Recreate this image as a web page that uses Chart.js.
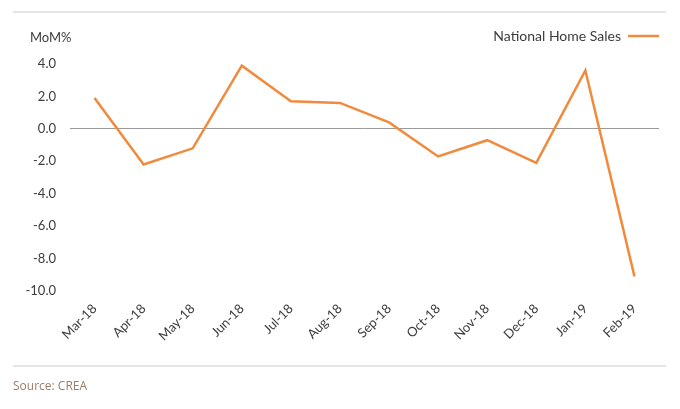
<!DOCTYPE html>
<html>
<head>
<meta charset="utf-8">
<script src="https://cdn.jsdelivr.net/npm/chart.js@4.4.1/dist/chart.umd.min.js"></script>
<style>
  html, body { margin: 0; padding: 0; background: #fff; }
  #wrap { position: relative; width: 680px; height: 409px; }
</style>
</head>
<body>
<div id="wrap"><canvas id="chart" width="680" height="409"></canvas></div>
<script>
const MONTHS = ['Mar-18', 'Apr-18', 'May-18', 'Jun-18', 'Jul-18', 'Aug-18', 'Sep-18', 'Oct-18', 'Nov-18', 'Dec-18', 'Jan-19', 'Feb-19'];
const HOME_SALES = [1.9, -2.2, -1.2, 3.9, 1.7, 1.6, 0.4, -1.7, -0.7, -2.1, 3.6, -9.1];
const Y_MIN = -10;
const Y_MAX = 4;
const Y_STEP = 2;

const ORANGE = '#f08a3c';
const TEXT = '#3c3c3c';

// frame lines, unit label and source note
const decorations = {
    id: 'decorations',
    beforeLayout(chart) {
        // fixed legend band so the plot starts where it does in the original
        const lg = chart.legend;
        if (lg && !lg._fixedBand) {
            const fit = lg.fit.bind(lg);
            lg.fit = function () { fit(); this.height = 35; };
            lg._fixedBand = true;
        }
    },
    afterDraw(chart) {
        const ctx = chart.ctx;
        ctx.save();
        ctx.strokeStyle = '#dddddd';
        ctx.lineWidth = 1.5;
        ctx.beginPath();
        ctx.moveTo(13, 12);
        ctx.lineTo(666, 12);
        ctx.moveTo(13, 366);
        ctx.lineTo(666, 366);
        ctx.stroke();

        ctx.fillStyle = TEXT;
        ctx.font = '13px Lato';
        ctx.textBaseline = 'middle';
        ctx.fillText('MoM%', 30, 38);

        ctx.fillStyle = '#9a7d6a';
        ctx.font = '12px "Open Sans"';
        ctx.fillText('Source: CREA', 13, 387);
        ctx.restore();
    }
};

new Chart(document.getElementById('chart'), {
    type: 'line',
    data: {
        labels: MONTHS,
        datasets: [{
            label: 'National Home Sales',
            data: HOME_SALES,
            borderColor: ORANGE,
            backgroundColor: ORANGE,
            borderWidth: 2.5,
            pointRadius: 0,
            tension: 0,
            fill: false
        }]
    },
    options: {
        responsive: false,
        animation: false,
        layout: { padding: { top: 29, right: 21, left: 0, bottom: 0 } },
        plugins: {
            legend: {
                position: 'top',
                align: 'start',
                rtl: true,
                textDirection: 'ltr',
                labels: {
                    usePointStyle: true,
                    pointStyle: 'line',
                    pointStyleWidth: 31,
                    padding: 0,
                    color: TEXT,
                    font: { family: 'Lato', size: 14 }
                }
            },
            tooltip: { enabled: false }
        },
        scales: {
            x: {
                offset: true,
                grid: { display: false, drawTicks: false },
                border: { display: false },
                ticks: {
                    minRotation: 45,
                    maxRotation: 45,
                    padding: 10,
                    color: TEXT,
                    font: { family: 'Lato', size: 13 }
                },
                afterFit: scale => { scale.height = 118; }
            },
            y: {
                min: Y_MIN,
                max: Y_MAX,
                grid: {
                    drawTicks: false,
                    color: c => (c.tick && c.tick.value === 0 ? '#9a9a9a' : 'rgba(0,0,0,0)'),
                    lineWidth: 1
                },
                border: { display: false },
                ticks: {
                    stepSize: Y_STEP,
                    padding: 14,
                    color: TEXT,
                    font: { family: 'Lato', size: 13 },
                    callback: v => v.toFixed(1)
                },
                afterFit: scale => { scale.width = 70; }
            }
        }
    },
    plugins: [decorations]
});
</script>
</body>
</html>
